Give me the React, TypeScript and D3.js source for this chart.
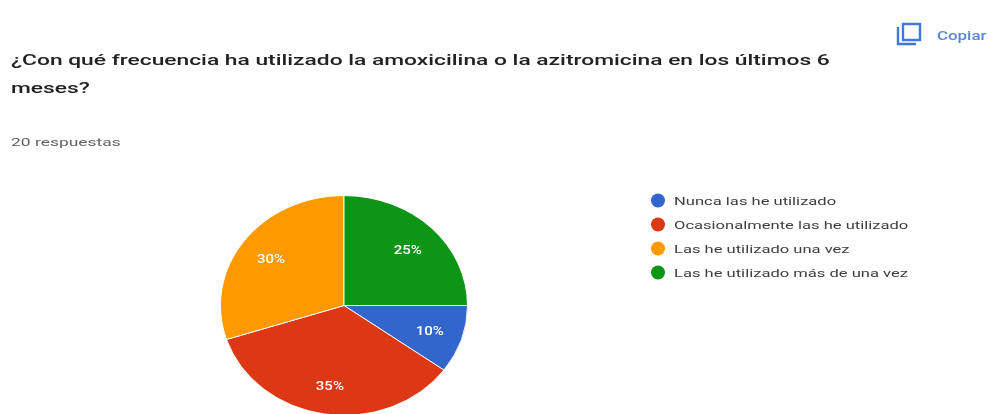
import React from "react";
import * as d3 from "d3";

const title1 = "¿Con qué frecuencia ha utilizado la amoxicilina o la azitromicina en los últimos 6";
const title2 = "meses?";
const responses = "20 respuestas";
const categories = ["Nunca las he utilizado", "Ocasionalmente las he utilizado", "Las he utilizado una vez", "Las he utilizado más de una vez"];
const values = [10, 35, 30, 25];
const colors = ["#3366cc", "#dc3912", "#ff9900", "#109618"];

export default function App() {
  const cx = 344, cy = 305.5, r = 123.5, squash = 0.89;
  const pie = d3.pie<number>().sort(null).startAngle(Math.PI / 2).endAngle(Math.PI / 2 + 2 * Math.PI);
  const arcs = pie(values);
  const arc = d3.arc<d3.PieArcDatum<number>>().innerRadius(0).outerRadius(r);
  const lab = d3.arc<d3.PieArcDatum<number>>().innerRadius(r * 0.73).outerRadius(r * 0.73);
  const font = "Roboto, Arial, sans-serif";
  return (
    <svg width={1002} height={414} style={{ position: "absolute", left: 0, top: 0, background: "#fff" }} fontFamily={font}>
      <defs>
        <filter id="soft" filterUnits="userSpaceOnUse" x="0" y="0" width="1002" height="414">
          <feGaussianBlur stdDeviation="0.7" />
        </filter>
      </defs>
      <g filter="url(#soft)">
        <g transform="translate(11,65) scale(1.5,1)"><text fontSize={15.2} fontWeight={500} fill="#202124">{title1}</text></g>
        <g transform="translate(11,93) scale(1.5,1)"><text fontSize={15.2} fontWeight={500} fill="#202124">{title2}</text></g>
        <g transform="translate(11,146) scale(1.6,1)"><text fontSize={10.9} fill="#5f6368">{responses}</text></g>
        <g fill="none" stroke="#3f78d8" strokeWidth={2.4}>
          <rect x={903} y={24} width={17} height={16} />
          <path d="M898 27V44H916" />
        </g>
        <g transform="translate(937,40) scale(1.3,1)"><text fontSize={13} fontWeight={500} fill="#5a86d8">Copiar</text></g>
        <g transform={`translate(${cx},${cy}) scale(1,${squash})`}>
          {arcs.map((a, i) => <path key={i} d={arc(a) ?? ""} fill={colors[i]} stroke="#fff" strokeWidth={1} />)}
        </g>
        <g transform={`translate(${cx},${cy})`}>
          {arcs.map((a, i) => {
            const [x, y] = lab.centroid(a);
            return (
              <g key={i} transform={`translate(${x},${y * squash + 5}) scale(1.25,1)`}>
                <text textAnchor="middle" fontSize={12} fontWeight={500} fill="#fff">{values[i]}%</text>
              </g>
            );
          })}
        </g>
        {categories.map((c, i) => (
          <g key={c} transform={`translate(658,${200.5 + i * 24})`}>
            <circle r={7} fill={colors[i]} />
            <g transform="translate(16,4.5) scale(1.44,1)"><text fontSize={11.5} fill="#3c4043">{c}</text></g>
          </g>
        ))}
      </g>
    </svg>
  );
}
